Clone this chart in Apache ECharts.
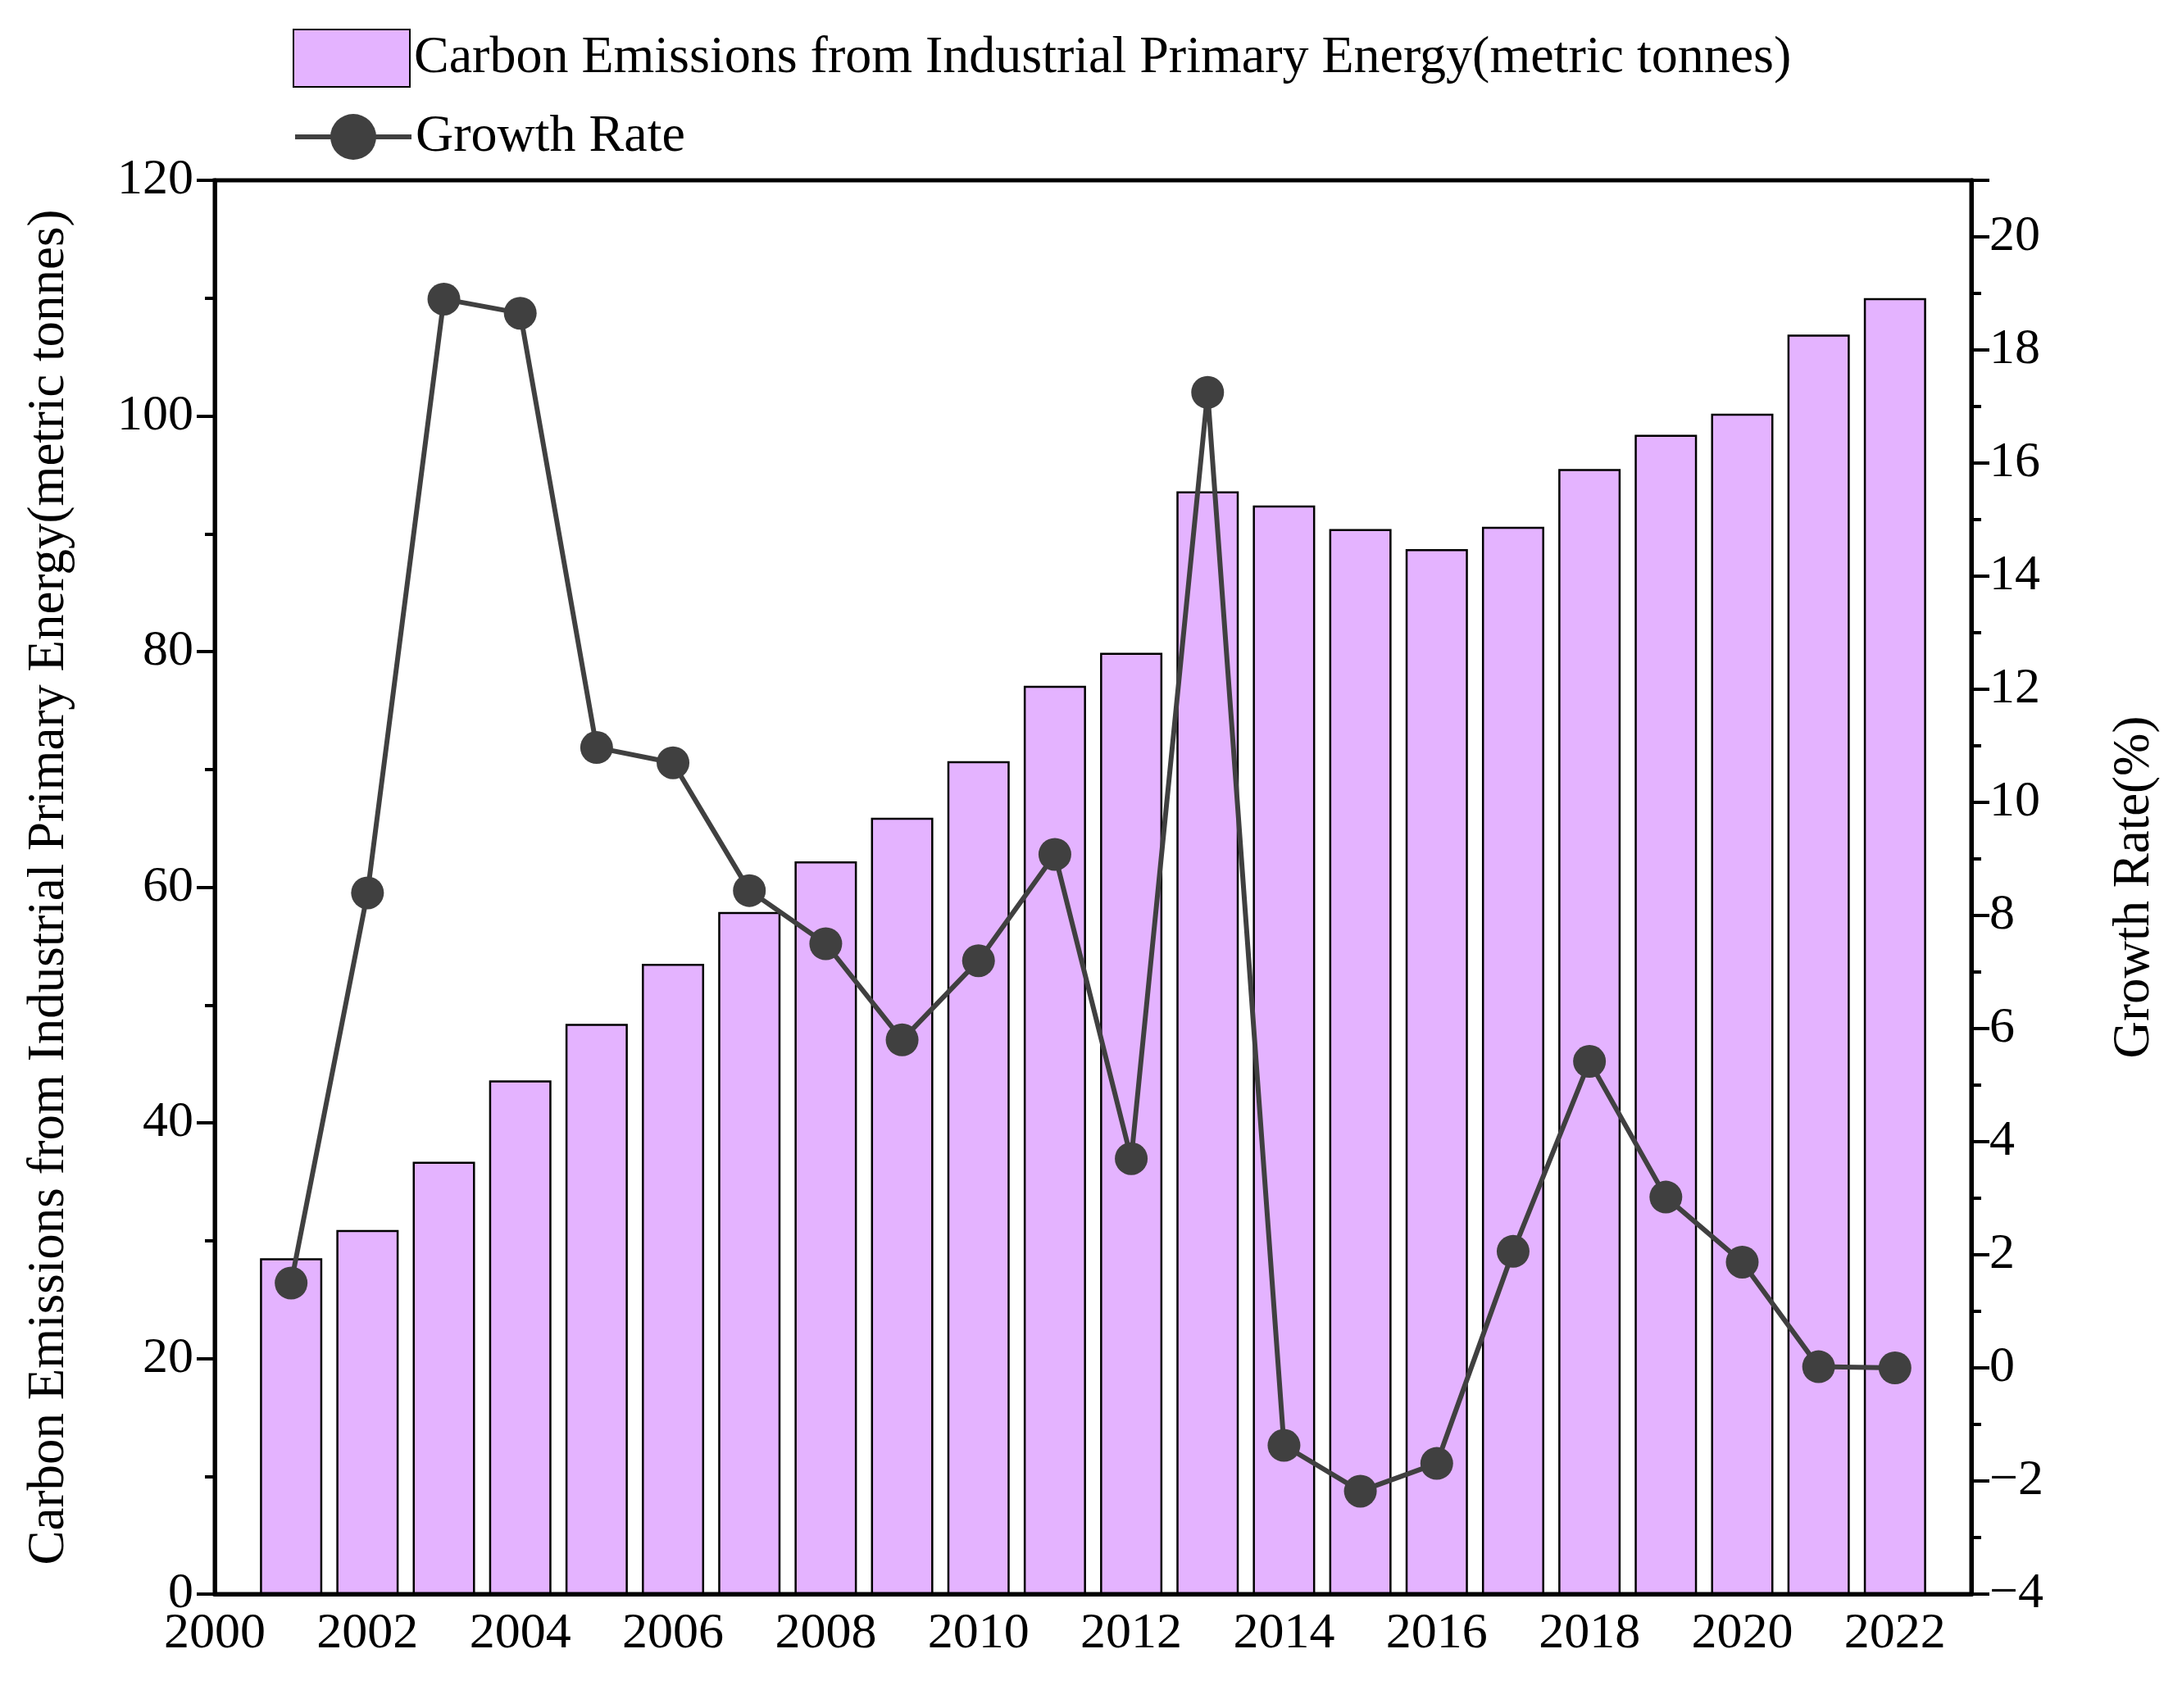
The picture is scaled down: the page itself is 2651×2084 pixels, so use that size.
<!DOCTYPE html>
<html>
<head>
<meta charset="utf-8">
<script src="https://cdn.jsdelivr.net/npm/echarts@6/dist/echarts.min.js"></script>
<style>html,body{margin:0;padding:0;background:#fff}#main{width:2651px;height:2084px}</style>
</head>
<body>
<div id="main"></div>
<script>
var years = [2001,2002,2003,2004,2005,2006,2007,2008,2009,2010,2011,2012,2013,2014,2015,2016,2017,2018,2019,2020,2021,2022];
var emissions = [28.5,30.9,36.7,43.6,48.4,53.5,57.9,62.2,65.9,70.7,77.1,79.9,93.6,92.4,90.4,88.7,90.6,95.5,98.4,100.2,106.9,110.0];
var growth = [1.5,8.4,18.9,18.65,10.97,10.7,8.44,7.5,5.8,7.2,9.08,3.7,17.25,-1.37,-2.18,-1.69,2.06,5.42,3.02,1.87,0.02,0.0];

var font = 'Liberation Serif';
var barData = years.map(function (y, i) { return [y, emissions[i]]; });
var lineData = years.map(function (y, i) { return [y, growth[i]]; });

var myChart = echarts.init(document.getElementById('main'));
var option = {
    backgroundColor: '#fff',
    textStyle: { fontFamily: font },
    legend: [
        {
            data: [{ name: 'Carbon Emissions from Industrial Primary Energy(metric tonnes)', icon: 'rect' }],
            left: 352, top: 30, itemWidth: 142, itemHeight: 70, itemGap: 24,
            textStyle: { fontFamily: font, fontSize: 64, color: '#000' }
        },
        {
            data: ['Growth Rate'],
            left: 352, top: 130, itemWidth: 142, itemHeight: 70, itemGap: 24,
            lineStyle: { width: 6 },
            textStyle: { fontFamily: font, fontSize: 64, color: '#000' }
        }
    ],
    grid: { left: 262, right: 246, top: 220, bottom: 139, show: true, borderColor: '#000', borderWidth: 5 },
    xAxis: {
        type: 'value', min: 2000, max: 2023, interval: 2,
        splitLine: { show: false },
        axisLine: { lineStyle: { color: '#000', width: 5 } },
        axisTick: { inside: true, length: 22, lineStyle: { width: 4 } },
        axisLabel: { fontSize: 62, color: '#000', margin: 18, fontFamily: font,
            formatter: function (v) { return v <= 2022 ? String(v) : ''; } }
    },
    yAxis: [
        {
            type: 'value', min: 0, max: 120, interval: 20,
            name: 'Carbon Emissions from Industrial Primary Energy(metric tonnes)',
            nameLocation: 'middle', nameGap: 170,
            nameTextStyle: { fontSize: 63, color: '#000', fontFamily: font },
            splitLine: { show: false },
            axisLine: { show: true, lineStyle: { color: '#000', width: 5 } },
            axisTick: { show: true, length: 22, lineStyle: { width: 4 } },
            minorTick: { show: true, splitNumber: 2, length: 12, lineStyle: { color: '#000', width: 4 } },
            axisLabel: { fontSize: 62, color: '#000', margin: 26, fontFamily: font }
        },
        {
            type: 'value', min: -4, max: 21, interval: 2,
            name: 'Growth Rate(%)',
            nameLocation: 'middle', nameGap: 168,
            nameTextStyle: { fontSize: 63, color: '#000', fontFamily: font },
            splitLine: { show: false },
            axisLine: { show: true, lineStyle: { color: '#000', width: 5 } },
            axisTick: { show: true, length: 22, lineStyle: { width: 4 } },
            minorTick: { show: true, splitNumber: 2, length: 12, lineStyle: { color: '#000', width: 4 } },
            axisLabel: { fontSize: 62, color: '#000', margin: 22, fontFamily: font,
                formatter: function (v) { return v > 20 ? '' : (v < 0 ? '\u2212' + (-v) : String(v)); } }
        }
    ],
    series: [
        {
            name: 'Carbon Emissions from Industrial Primary Energy(metric tonnes)',
            type: 'bar', yAxisIndex: 0, barWidth: 76,
            itemStyle: { color: '#e4b3ff', borderColor: '#000', borderWidth: 2.5 },
            data: barData
        },
        {
            name: 'Growth Rate',
            type: 'line', yAxisIndex: 1,
            symbol: 'circle', symbolSize: 40,
            lineStyle: { color: '#404040', width: 6 },
            itemStyle: { color: '#404040' },
            data: lineData
        }
    ]
};
myChart.setOption(option);
</script>
</body>
</html>
